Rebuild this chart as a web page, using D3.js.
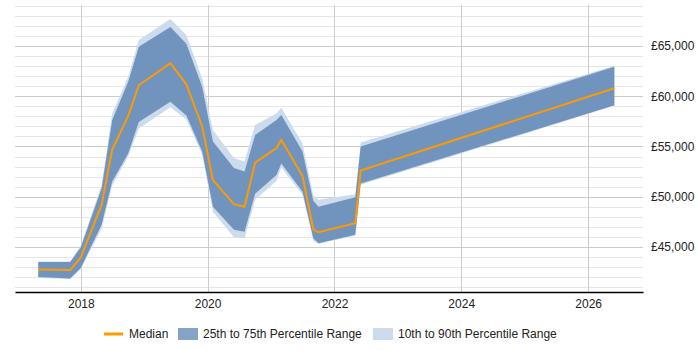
<!DOCTYPE html>
<html>
<head>
<meta charset="utf-8">
<script src="https://cdn.jsdelivr.net/npm/d3@7"></script>
<style>
  body { margin: 0; background: #fff; }
  svg text { font-family: "Liberation Sans", Arial, sans-serif; font-size: 12px; fill: #222; }
</style>
</head>
<body>
<svg id="chart"></svg>
<script>
// data
const dates = ['2017-05', '2017-11', '2018-01', '2018-05', '2018-07', '2018-10', '2018-12', '2019-06',
    '2019-09', '2019-12', '2020-02', '2020-06', '2020-08', '2020-10', '2021-02', '2021-03',
    '2021-07', '2021-09', '2021-10', '2022-05', '2022-06', '2026-06'];
const median = [42750, 42700, 43950, 49200, 54700, 58050, 61100, 63300, 61200, 57000, 51650,
    49250, 49000, 53400, 54850, 55650, 52050, 46750, 46450, 47350, 52600, 60800];
const p25 = [42000, 41850, 42900, 47200, 51500, 54300, 57450, 59450, 58100, 54500, 49000,
    46700, 46500, 50300, 52150, 53300, 50500, 45850, 45350, 46200, 51300, 59100];
const p75 = [43500, 43500, 44950, 50850, 57650, 61450, 64950, 66900, 65250, 60950, 55500,
    52850, 52500, 56150, 57650, 58150, 54500, 49600, 49000, 49950, 55000, 62950];
const p10 = [41900, 41800, 42800, 46800, 51150, 54000, 56800, 58900, 57700, 54200, 48500,
    45950, 45850, 49700, 51550, 52900, 50200, 45600, 45300, 46100, 51200, 59050];
const p90 = [43550, 43550, 45100, 51200, 58300, 61950, 65600, 67700, 66100, 61800, 56650,
    53850, 53500, 57150, 58300, 58850, 55300, 50150, 49700, 50250, 55400, 63050];
const yTicks = [45000, 50000, 55000, 60000, 65000];
const xTickYears = [2018, 2020, 2022, 2024, 2026];
const legendLabels = ['Median', '25th to 75th Percentile Range', '10th to 90th Percentile Range'];

const width = 700;
const height = 350;
const plot = { left: 15, right: 643, top: 5, bottom: 292 };

const parseMonth = d3.timeParse('%Y-%m');
const rows = dates.map((d, i) => ({
    date: parseMonth(d), median: median[i], p25: p25[i], p75: p75[i], p10: p10[i], p90: p90[i]
}));

const svg = d3.select('#chart').attr('width', width).attr('height', height);

const x = d3.scaleTime()
    .domain([new Date(2016, 11, 18), new Date(2026, 10, 13)])
    .range([plot.left, plot.right]);
const y = d3.scaleLinear()
    .domain([40500, 69100])
    .range([plot.bottom, plot.top]);

// horizontal grid: light every 1000, darker every 5000
const minor = d3.range(41000, 69001, 1000).filter(v => v % 5000 !== 0);
svg.append('g').selectAll('line')
    .data(minor)
    .enter().append('line')
    .attr('x1', plot.left).attr('x2', plot.right)
    .attr('y1', d => Math.round(y(d)) + 0.5).attr('y2', d => Math.round(y(d)) + 0.5)
    .attr('stroke', '#e6e6e6');
svg.append('g').selectAll('line')
    .data(yTicks)
    .enter().append('line')
    .attr('x1', plot.left).attr('x2', plot.right)
    .attr('y1', d => Math.round(y(d)) + 0.5).attr('y2', d => Math.round(y(d)) + 0.5)
    .attr('stroke', '#cccccc');

// vertical grid at the year ticks
const xTicks = xTickYears.map(yr => new Date(yr, 0, 1));
svg.append('g').selectAll('line')
    .data(xTicks)
    .enter().append('line')
    .attr('x1', d => Math.round(x(d)) + 0.5).attr('x2', d => Math.round(x(d)) + 0.5)
    .attr('y1', plot.top).attr('y2', plot.bottom)
    .attr('stroke', '#cccccc');

// bands
const band = (lo, hi) => d3.area()
    .x(d => x(d.date))
    .y0(d => y(d[lo]))
    .y1(d => y(d[hi]));

svg.append('path')
    .datum(rows)
    .attr('d', band('p10', 'p90'))
    .attr('fill', '#ccdcec');

svg.append('path')
    .datum(rows)
    .attr('d', band('p25', 'p75'))
    .attr('fill', '#7094bd');

svg.append('path')
    .datum(rows)
    .attr('d', d3.line().x(d => x(d.date)).y(d => y(d.median)))
    .attr('fill', 'none')
    .attr('stroke', '#ff9900')
    .attr('stroke-width', 2);

// x axis
const xAxis = d3.axisBottom(x)
    .tickValues(xTicks)
    .tickFormat(d3.timeFormat('%Y'))
    .tickSize(0)
    .tickPadding(7);
const gx = svg.append('g')
    .attr('transform', `translate(0,${plot.bottom})`)
    .call(xAxis);
gx.select('.domain').attr('stroke', '#000').attr('stroke-width', 1.5);
gx.selectAll('text').attr('font-size', 12).attr('fill', '#222');

// y labels on the right
const yAxis = d3.axisRight(y)
    .tickValues(yTicks)
    .tickFormat(d => '£' + d3.format(',')(d))
    .tickSize(0)
    .tickPadding(8);
const gy = svg.append('g')
    .attr('transform', `translate(${plot.right},0)`)
    .call(yAxis);
gy.select('.domain').remove();
gy.selectAll('text').attr('font-size', 12).attr('fill', '#222');

// legend
const legend = svg.append('g').attr('transform', 'translate(0,334)');
legend.append('line')
    .attr('x1', 104).attr('x2', 123)
    .attr('stroke', '#ff9900').attr('stroke-width', 3);
legend.append('text').attr('x', 129).attr('dy', '0.35em').text(legendLabels[0]);
legend.append('rect')
    .attr('x', 178).attr('y', -6).attr('width', 20).attr('height', 12)
    .attr('fill', '#86a4c6');
legend.append('text').attr('x', 203).attr('dy', '0.35em').text(legendLabels[1]);
legend.append('rect')
    .attr('x', 373).attr('y', -6).attr('width', 20).attr('height', 12)
    .attr('fill', '#ccdcec');
legend.append('text').attr('x', 398).attr('dy', '0.35em').text(legendLabels[2]);
</script>
</body>
</html>
